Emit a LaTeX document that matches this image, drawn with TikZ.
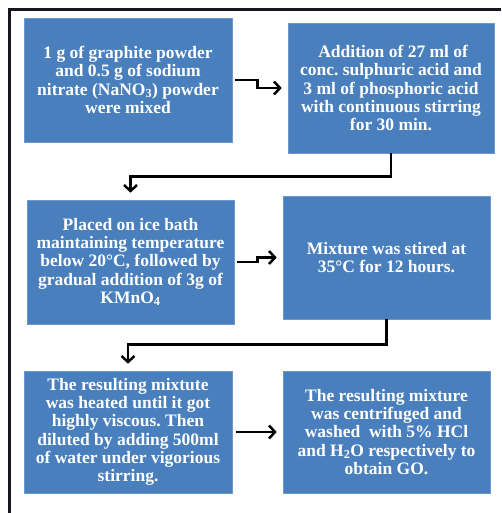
\documentclass[tikz,border=0pt]{standalone}
\usepackage{fontspec}
\setmainfont{Liberation Serif}
\usetikzlibrary{arrows.meta}
\definecolor{boxblue}{RGB}{74,127,189}
\definecolor{boxedge}{RGB}{110,152,205}
\definecolor{framecol}{RGB}{22,22,32}
\frenchspacing
\tikzset{
  stepbox/.style={fill=boxblue, draw=boxedge, line width=0.6pt, text=white,
    font=\fontsize{17.5}{18.3}\selectfont\bfseries, align=center, inner sep=0pt},
  arr/.style={line width=2.5pt, black, -{Straight Barb[length=6pt,width=13pt,line width=2.5pt]}},
  framel/.style={line width=3pt, framecol}
}
\begin{document}
\begin{tikzpicture}[x=1pt,y=-1pt]
\useasboundingbox (0,0) rectangle (501,513);
\draw[framel] (9,513) -- (9,10) -- (501,10);

\node[stepbox, minimum width=208pt, minimum height=124pt] (b1) at (128,80)
  {1 g of graphite powder\\ and 0.5 g of sodium\\ nitrate (NaNO\textsubscript{3}) powder\\ were mixed};
\node[stepbox, minimum width=206pt, minimum height=130pt] (b2) at (391,88)
  {\ Addition of 27 ml of\\ conc. sulphuric acid and\\ 3 ml of phosphoric acid\\ with continuous stirring\\ for 30 min.};
\node[stepbox, minimum width=207pt, minimum height=124pt] (b3) at (130.5,262)
  {Placed on ice bath\\ maintaining temperature\\ below 20°C, followed by\\ gradual addition of 3g of\\ KMnO\textsubscript{4}};
\node[stepbox, minimum width=207pt, minimum height=123pt] (b4) at (386.5,257.5)
  {Mixture was stired at\\ 35°C for 12 hours.};
\node[stepbox, minimum width=208pt, minimum height=122pt] (b5) at (128,432)
  {The resulting mixtute\\ was heated until it got\\ highly viscous. Then\\ diluted by adding 500ml\\ of water under vigorious\\ stirring.};
\node[stepbox, minimum width=207pt, minimum height=122pt] (b6) at (386.5,432)
  {The resulting mixture\\ was centrifuged and\\ washed\ \ with 5\% HCl\\ and H\textsubscript{2}O respectively to\\ obtain GO.};

\draw[arr] ([xshift=3pt]b1.east) -- ++(22,0) -- ++(0,8) -- ([xshift=-6pt]b2.west);
\draw[arr] (b2.south) -- ++(0,23) -| ([yshift=7pt]b3.north);
\draw[arr] ([xshift=3pt]b3.east) -- ++(20,0) -- ++(0,-4.5) -- ([xshift=-6pt]b4.west);
\draw[arr] (b4.south) -- ++(0,25) -| ([yshift=7pt]b5.north);
\draw[arr] ([xshift=4pt]b5.east) -- ([xshift=-6pt]b6.west);
\end{tikzpicture}
\end{document}
